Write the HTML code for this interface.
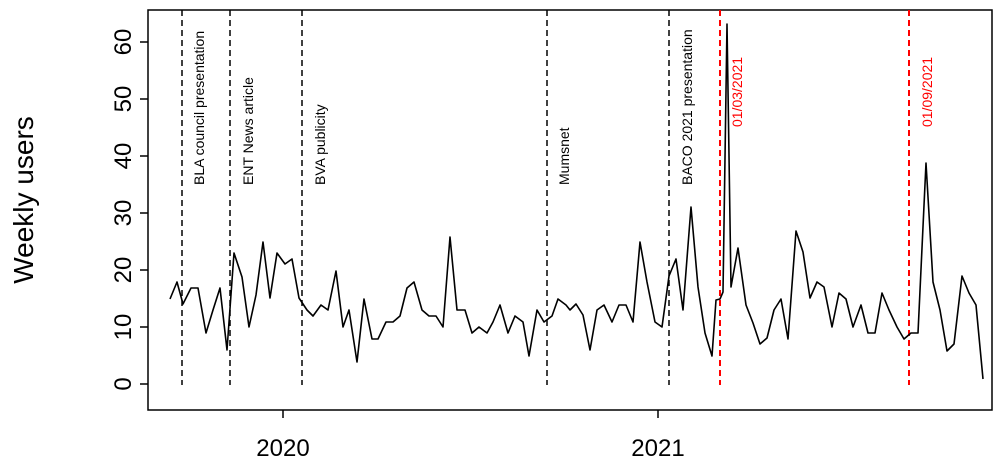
<!DOCTYPE html>
<html><head><style>body{margin:0;background:#fff}</style></head><body>
<svg width="1000" height="467" xmlns="http://www.w3.org/2000/svg" font-family="Liberation Sans, Arial, sans-serif">
<rect x="148" y="10" width="844" height="400" fill="none" stroke="#000" stroke-width="1.5"/>
<g stroke="#000" stroke-width="1.5">
<line x1="148" y1="384" x2="140" y2="384"/><line x1="148" y1="327" x2="140" y2="327"/><line x1="148" y1="270" x2="140" y2="270"/><line x1="148" y1="213" x2="140" y2="213"/><line x1="148" y1="156" x2="140" y2="156"/><line x1="148" y1="99" x2="140" y2="99"/><line x1="148" y1="42" x2="140" y2="42"/>
<line x1="283" y1="410" x2="283" y2="418"/><line x1="658" y1="410" x2="658" y2="418"/>
</g>
<g font-size="24" text-anchor="middle">
<text transform="translate(131,384) rotate(-90)">0</text>
<text transform="translate(131,327) rotate(-90)">10</text>
<text transform="translate(131,270) rotate(-90)">20</text>
<text transform="translate(131,213) rotate(-90)">30</text>
<text transform="translate(131,156) rotate(-90)">40</text>
<text transform="translate(131,99) rotate(-90)">50</text>
<text transform="translate(131,42) rotate(-90)">60</text>
<text x="283" y="456">2020</text><text x="658" y="456">2021</text>
</g>
<text transform="translate(33,200) rotate(-90)" font-size="28" text-anchor="middle">Weekly users</text>
<g stroke="#000" stroke-width="1.5" stroke-dasharray="6,4">
<line x1="182" y1="10" x2="182" y2="385"/><line x1="230" y1="10" x2="230" y2="385"/><line x1="302" y1="10" x2="302" y2="385"/><line x1="547" y1="10" x2="547" y2="385"/><line x1="669" y1="10" x2="669" y2="385"/>
</g>
<g stroke="#f00" stroke-width="2" stroke-dasharray="6,4">
<line x1="720" y1="10" x2="720" y2="385"/><line x1="909" y1="10" x2="909" y2="385"/>
</g>
<g font-size="14">
<text transform="translate(204,185) rotate(-90)">BLA council presentation</text>
<text transform="translate(253,185) rotate(-90)">ENT News article</text>
<text transform="translate(325,185) rotate(-90)">BVA publicity</text>
<text transform="translate(569,185) rotate(-90)">Mumsnet</text>
<text transform="translate(692,185) rotate(-90)">BACO 2021 presentation</text>
<text transform="translate(742,127) rotate(-90)" fill="#f00">01/03/2021</text>
<text transform="translate(932,127) rotate(-90)" fill="#f00">01/09/2021</text>
</g>
<polyline fill="none" stroke="#000" stroke-width="1.6" stroke-linejoin="round" points="
170,299 177,282 183,304 191,288 198,288 206,333 213,310 220,288 227,350 234,253 242,277 249,327 256,295 263,242 270,298 277,253 285,264 292,259 299,298 307,310 313,316 321,305 328,310 336,271 343,327 349,310 357,362 364,299 372,339 378,339 386,322 393,322 400,316 407,288 414,282 422,310 429,316 436,316 443,327 450,237 457,310 465,310 472,333 479,327 487,333 493,322 500,305 508,333 515,316 523,322 529,356 537,310 544,322 552,316 558,299 566,305 570,310
576,304 583,315 590,350 597,310 604,305 612,322 619,305 626,305 633,322 640,242 647,282 655,322 662,327 669,276 676,259 683,310 691,207 698,287 705,333 712,356 716,300 720,299 723,292 727,24 731,287 738,248 746,305 753,323 760,344 767,338 774,310 781,299 788,339 796,231 803,252 810,298 817,282 824,287 832,327 839,293 846,299 853,327 861,305 868,333 875,333 882,293 889,310 897,327 904,339 911,333 918,333 926,163 933,282 940,310 947,351 954,344 962,276 969,293 976,305 983,379"/>
</svg>
</body></html>
